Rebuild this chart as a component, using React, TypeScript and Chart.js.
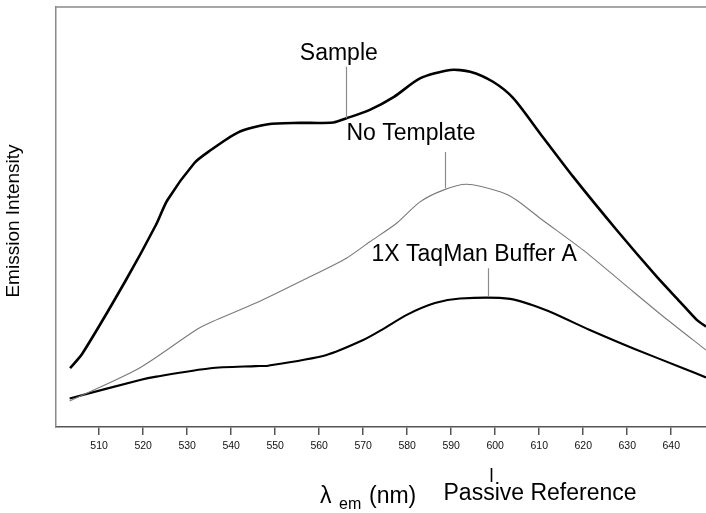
import React, { useEffect, useRef } from "react";
import { Chart, registerables } from "chart.js";

Chart.register(...registerables);

// Emission wavelength (nm) and intensity (arbitrary units, 0-100) per curve
const sampleNm = [503.4, 506.2, 516.1, 522.9, 525.5, 531.6, 534.8, 541.5, 548.4, 555.6, 563.2, 566.2, 571.5, 577.0, 582.9, 589.8, 594.3, 599.5, 604.1, 610.2, 617.7, 627.6, 636.7, 642.0, 645.8, 647.9];
const sampleIntensity = [14.0, 17.5, 35.0, 48.1, 54.0, 62.8, 65.5, 70.1, 72.1, 72.4, 72.5, 73.5, 75.5, 78.6, 83.0, 85.0, 84.6, 82.2, 78.3, 69.9, 59.6, 46.9, 35.8, 29.8, 25.5, 23.9];

const noTemplateNm = [503.3, 519.1, 532.0, 535.8, 545.6, 556.4, 566.2, 571.5, 577.6, 582.9, 588.2, 593.5, 601.1, 604.9, 610.2, 620.0, 629.1, 638.2, 647.9];
const noTemplateIntensity = [6.2, 14.0, 23.1, 25.1, 29.5, 35.0, 40.2, 44.1, 48.5, 53.6, 56.4, 57.8, 56.0, 54.0, 49.7, 42.1, 34.2, 26.3, 18.3];

const bufferNm = [503.3, 519.3, 523.0, 535.3, 545.6, 548.4, 561.5, 570.0, 574.5, 579.9, 586.3, 592.0, 603.4, 611.3, 621.5, 631.4, 642.7, 647.9];
const bufferIntensity = [6.8, 11.2, 12.0, 14.0, 14.5, 14.6, 17.1, 20.7, 23.3, 26.7, 29.5, 30.6, 30.5, 27.9, 23.1, 18.7, 14.0, 11.8];

const xTicks = [510, 520, 530, 540, 550, 560, 570, 580, 590, 600, 610, 620, 630, 640];
const xMin = 500.2;
const xMax = 647.9;

// Curve labels with leader lines (data units)
const annotationLabels = ["Sample", "No Template", "1X TaqMan Buffer A"];
const annotationTextNm = [555.6, 566.2, 571.9];
const annotationTextValue = [87.5, 68.3, 39.6];
const leaderNm = [566.0, 588.6, 598.3];
const leaderTop = [85.8, 65.5, 37.8];
const leaderBottom = [73.5, 56.8, 31.0];

const passiveRefNm = 599;
const passiveRefLabel = "Passive Reference";
const yTitle = "Emission Intensity";

const FONT = '"Liberation Sans", Arial, sans-serif';

const toPoints = (xs: number[], ys: number[]) => xs.map((x, i) => ({ x, y: ys[i] }));

const overlayPlugin = {
  id: "overlay",
  afterDraw(chart: any) {
    const ctx = chart.ctx as CanvasRenderingContext2D;
    const { left, right, top, bottom } = chart.chartArea;
    const xs = chart.scales.x;
    const ys = chart.scales.y;
    ctx.save();

    // top border
    ctx.strokeStyle = "#8a8a8a";
    ctx.lineWidth = 1.5;
    ctx.beginPath();
    ctx.moveTo(left - 0.75, top);
    ctx.lineTo(right, top);
    ctx.stroke();

    // leader lines
    ctx.strokeStyle = "#8c8c8c";
    ctx.lineWidth = 1.2;
    for (let i = 0; i < leaderNm.length; i++) {
      const px = Math.round(xs.getPixelForValue(leaderNm[i])) + 0.5;
      ctx.beginPath();
      ctx.moveTo(px, ys.getPixelForValue(leaderTop[i]));
      ctx.lineTo(px, ys.getPixelForValue(leaderBottom[i]));
      ctx.stroke();
    }

    // curve labels
    ctx.fillStyle = "#000";
    ctx.font = `23px ${FONT}`;
    ctx.textAlign = "left";
    ctx.textBaseline = "alphabetic";
    for (let i = 0; i < annotationLabels.length; i++) {
      ctx.fillText(
        annotationLabels[i],
        xs.getPixelForValue(annotationTextNm[i]),
        ys.getPixelForValue(annotationTextValue[i])
      );
    }

    // y title
    ctx.save();
    ctx.translate(19, (top + bottom) / 2 + 4);
    ctx.rotate(-Math.PI / 2);
    ctx.textAlign = "center";
    ctx.font = `19px ${FONT}`;
    ctx.fillText(yTitle, 0, 0);
    ctx.restore();

    // x title: lambda_em (nm)
    ctx.textAlign = "left";
    ctx.font = `23px ${FONT}`;
    ctx.fillText("\u03bb", left + 264, bottom + 76);
    ctx.font = `16px ${FONT}`;
    ctx.fillText("em", left + 283, bottom + 82);
    ctx.font = `23px ${FONT}`;
    ctx.fillText("(nm)", left + 313, bottom + 76);

    // passive reference marker
    const pr = Math.round(xs.getPixelForValue(passiveRefNm)) + 0.5;
    ctx.strokeStyle = "#000";
    ctx.lineWidth = 1.6;
    ctx.beginPath();
    ctx.moveTo(pr, bottom + 41);
    ctx.lineTo(pr, bottom + 55);
    ctx.stroke();
    ctx.fillText(passiveRefLabel, pr - 48, bottom + 73);

    ctx.restore();
  },
};

export default function App() {
  const canvasRef = useRef<HTMLCanvasElement | null>(null);

  useEffect(() => {
    if (!canvasRef.current) return;
    const chart = new Chart(canvasRef.current, {
      type: "scatter",
      data: {
        datasets: [
          {
            label: "Sample",
            data: toPoints(sampleNm, sampleIntensity),
            showLine: true,
            borderColor: "#000",
            borderWidth: 2.6,
            pointRadius: 0,
            tension: 0.25,
          },
          {
            label: "No Template",
            data: toPoints(noTemplateNm, noTemplateIntensity),
            showLine: true,
            borderColor: "#7a7a7a",
            borderWidth: 1.1,
            pointRadius: 0,
            tension: 0.25,
          },
          {
            label: "1X TaqMan Buffer A",
            data: toPoints(bufferNm, bufferIntensity),
            showLine: true,
            borderColor: "#000",
            borderWidth: 2.1,
            pointRadius: 0,
            tension: 0.25,
          },
        ],
      },
      options: {
        animation: false,
        responsive: true,
        maintainAspectRatio: false,
        layout: { padding: { top: 7, left: 0, right: 0, bottom: 0 } },
        plugins: {
          legend: { display: false },
          tooltip: { enabled: false },
        },
        scales: {
          x: {
            type: "linear",
            min: xMin,
            max: xMax,
            afterBuildTicks: (scale: any) => {
              scale.ticks = xTicks.map((v) => ({ value: v }));
            },
            afterFit: (scale: any) => {
              scale.height = 86;
            },
            grid: {
              display: true,
              drawOnChartArea: false,
              drawTicks: true,
              tickLength: 8,
              color: "#555",
              lineWidth: 1.5,
            },
            border: { display: true, color: "#555", width: 1.6 },
            ticks: {
              autoSkip: false,
              maxRotation: 0,
              padding: 5,
              color: "#111",
              font: { family: FONT, size: 10.5 },
            },
          },
          y: {
            type: "linear",
            min: 0,
            max: 100,
            afterFit: (scale: any) => {
              scale.width = 56;
            },
            grid: { display: false },
            ticks: { display: false },
            border: { display: true, color: "#8a8a8a", width: 1.5 },
          },
        },
      },
      plugins: [overlayPlugin],
    });
    return () => chart.destroy();
  }, []);

  return (
    <div style={{ position: "fixed", left: 0, top: 0, width: 706, height: 513, background: "#fff" }}>
      <canvas ref={canvasRef} style={{ display: "block" }} />
    </div>
  );
}
